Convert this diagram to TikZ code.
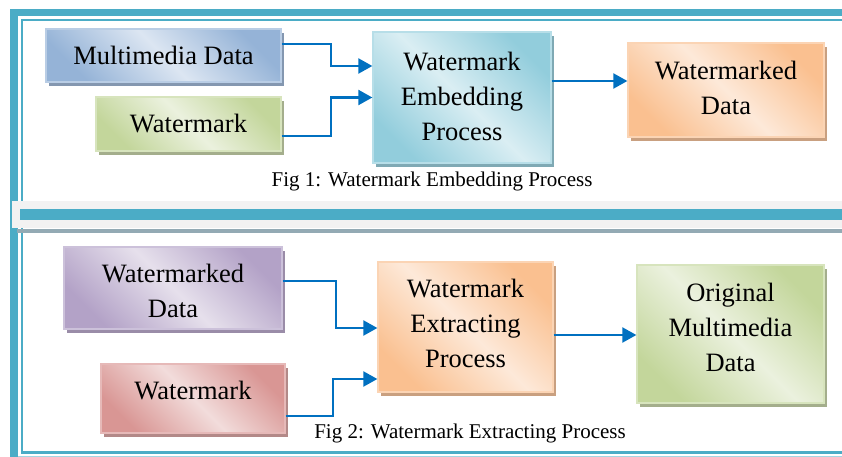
\documentclass[tikz,border=0pt]{standalone}
\usepackage{fontspec}
\setmainfont{Liberation Serif}
\usetikzlibrary{arrows.meta,shadows}
\definecolor{tealA}{HTML}{4BACC6}
\definecolor{tealL}{HTML}{A5D5E2}
\definecolor{bandG}{HTML}{F2F2F2}
\definecolor{bandS}{HTML}{93AAB4}
\definecolor{arrC}{HTML}{0070C0}
% box colour families: D dark, L light, B border, S shadow
\definecolor{bluD}{HTML}{95B3D7}\definecolor{bluL}{HTML}{DCE6F2}\definecolor{bluB}{HTML}{B9CDE5}\definecolor{bluS}{HTML}{8497B0}
\definecolor{grnD}{HTML}{C3D69B}\definecolor{grnL}{HTML}{EBF1DE}\definecolor{grnB}{HTML}{D7E4BD}\definecolor{grnS}{HTML}{A4AE8C}
\definecolor{aquD}{HTML}{92CDDC}\definecolor{aquL}{HTML}{DAEEF3}\definecolor{aquB}{HTML}{B7DEE8}\definecolor{aquS}{HTML}{7FA9B4}
\definecolor{orgD}{HTML}{FAC090}\definecolor{orgL}{HTML}{FDE9D9}\definecolor{orgB}{HTML}{FBD4B4}\definecolor{orgS}{HTML}{C9A080}
\definecolor{purD}{HTML}{B3A2C7}\definecolor{purL}{HTML}{E6E0EC}\definecolor{purB}{HTML}{CCC1DA}\definecolor{purS}{HTML}{9A8CA8}
\definecolor{redD}{HTML}{D99694}\definecolor{redL}{HTML}{F2DCDB}\definecolor{redB}{HTML}{E6B9B8}\definecolor{redS}{HTML}{B38988}
\begin{document}
\begin{tikzpicture}[x=1pt,y=-1pt,
  bx/.style={draw=#1B, line width=1.3pt, top color=#1D, bottom color=#1D, middle color=#1L,
    shading angle=-45, rectangle, inner sep=0pt,
    general shadow={fill=#1S, shadow xshift=3pt, shadow yshift=-4pt}},
  btxt/.style={align=center, inner sep=0pt, font=\fontsize{26.5}{35}\selectfont},
  arr/.style={draw=arrC, line width=2.2pt, -{Triangle[length=14pt,width=15pt]}},
  capt/.style={font=\fontsize{21}{24}\selectfont, inner sep=0pt}]
\useasboundingbox (0,0) rectangle (842,457);
% frame
\fill[tealA] (10,9) rectangle (842,16);
\fill[tealA] (10,9) rectangle (18,457);
\fill[tealA] (21,19) rectangle (842,21);
\fill[tealA] (21,19) rectangle (23,454);
\fill[tealA] (21,451) rectangle (842,454);
\fill[tealL] (18,456) rectangle (842,457);
% middle band
\fill[bandS] (17,229) rectangle (842,233);
\fill[bandG] (12,201) rectangle (842,228);
\fill[tealA] (20,209) rectangle (842,220);
% panel 1
\node[bx=blu, minimum width=235pt, minimum height=53pt] (md) at (163.5,55.5) {};
\node[btxt] (mdT) at (md.center) {Multimedia Data};
\node[bx=grn, minimum width=185pt, minimum height=54pt] (wm1) at (188.5,124) {};
\node[btxt] (wm1T) at (wm1.center) {Watermark};
\node[bx=aqu, minimum width=178pt, minimum height=131pt] (emb) at (462,97.5) {};
\node[btxt] (embT) at ([yshift=1pt]emb.center) {Watermark\\Embedding\\Process};
\node[bx=org, minimum width=196pt, minimum height=94pt] (wmd) at (726,90) {};
\node[btxt] (wmdT) at ([yshift=2pt]wmd.center) {Watermarked\\Data};
\node[capt] (cap1) at (432,181) {Fig 1: Watermark Embedding Process};
\draw[arr] ([yshift=11.5pt]md.east) -- ++(49,0) |- ([yshift=31.5pt]emb.west);
\draw[arr] ([yshift=-12pt]wm1.east) -- ++(49,0) |- (emb.west);
\draw[arr] ([yshift=9pt]wmd.west -| emb.east) -- ([yshift=9pt]wmd.west);
% panel 2
\node[bx=pur, minimum width=218pt, minimum height=82pt] (wmd2) at (173,288) {};
\node[btxt] (wmd2T) at ([yshift=-3pt]wmd2.center) {Watermarked\\Data};
\node[bx=red, minimum width=184pt, minimum height=69pt] (wm2) at (193,398.5) {};
\node[btxt] (wm2T) at ([yshift=8pt]wm2.center) {Watermark};
\node[bx=org, minimum width=175pt, minimum height=130pt] (ext) at (465.5,327) {};
\node[btxt] (extT) at ([yshift=4pt]ext.center) {Watermark\\Extracting\\Process};
\node[bx=grn, minimum width=187pt, minimum height=138pt] (orig) at (730.5,334) {};
\node[btxt] (origT) at ([yshift=7pt]orig.center) {Original\\Multimedia\\Data};
\node[capt] (cap2) at (470,433) {Fig 2: Watermark Extracting Process};
\draw[arr] ([yshift=7pt]wmd2.east) -- ++(53,0) |- ([yshift=-1pt]ext.west);
\draw[arr] ([yshift=-17.5pt]wm2.east) -- ++(47,0) |- ([yshift=-52pt]ext.west);
\draw[arr] ([yshift=-1pt]orig.west -| ext.east) -- ([yshift=-1pt]orig.west);
\end{tikzpicture}
\end{document}
